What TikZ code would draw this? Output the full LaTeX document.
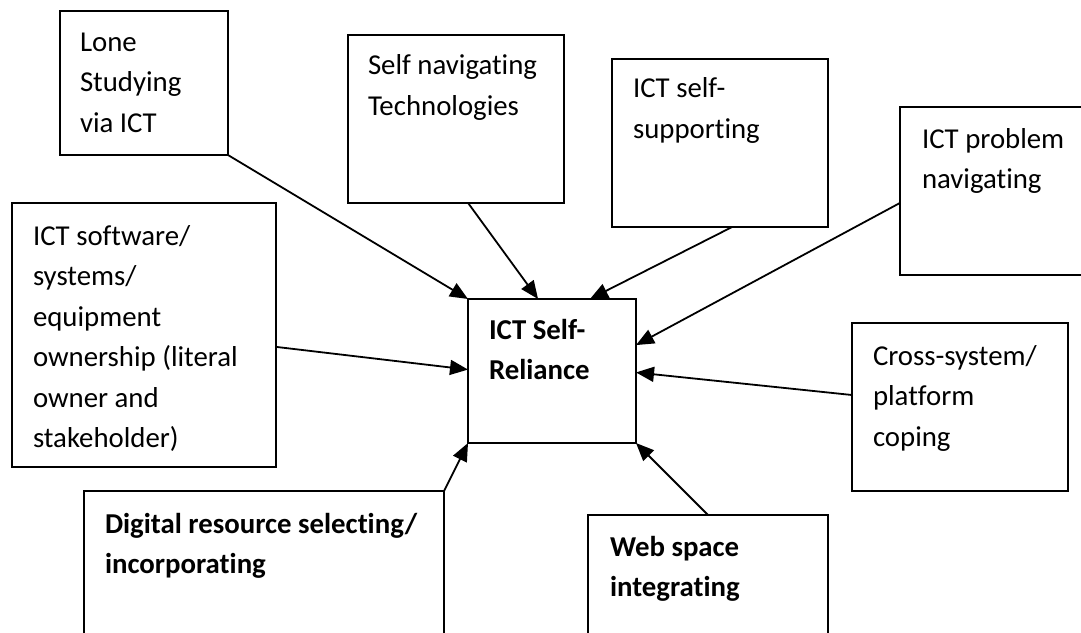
\documentclass[tikz,border=0pt]{standalone}
\usepackage{fontspec}
\setmainfont[Ligatures={NoCommon,NoDiscretionary,NoContextual}]{Carlito}
\usetikzlibrary{arrows.meta,calc}
\begin{document}
\begin{tikzpicture}[x=1pt,y=-1pt,
  box/.style={draw, line width=1.6pt, rectangle, inner sep=0pt, outer sep=0pt},
  txt/.style={anchor=north west, inner sep=0pt, outer sep=0pt, align=left,
    font=\fontsize{28.8pt}{40.5pt}\selectfont},
  btxt/.style={txt, font=\fontsize{28.8pt}{40.5pt}\selectfont\bfseries},
  conn/.style={line width=1.8pt, -{Triangle[length=18pt,width=15pt]}}]
\clip (0,0) rectangle (1081,632);
\fill[white] (0,0) rectangle (1081,632);
% boxes
\node[box, minimum width=168pt, minimum height=144pt] (lone) at (144,83) {};
\node[box, minimum width=216pt, minimum height=168pt] (selfnav) at (456,119) {};
\node[box, minimum width=216pt, minimum height=168pt] (selfsup) at (720,143) {};
\node[box, minimum width=216pt, minimum height=168pt] (problem) at (1008,191) {};
\node[box, minimum width=264pt, minimum height=264pt] (soft) at (144,335) {};
\node[box, minimum width=168pt, minimum height=144pt] (ctr) at (552,371) {};
\node[box, minimum width=216pt, minimum height=168pt] (cross) at (960,407) {};
\node[box, minimum width=360pt, minimum height=168pt] (digital) at (264,575) {};
\node[box, minimum width=240pt, minimum height=168pt] (web) at (708,599) {};
% texts
\node[txt] (lonet) at (80,33) {Lone\\Studying\\via ICT};
\node[txt] (selfnavt) at (368,55) {Self navigating\\Technologies};
\node[txt] (selfsupt) at (633,78) {ICT self-\\supporting};
\node[txt] (problemt) at (922,128) {ICT problem\\navigating};
\node[txt] (softt) at (33,225) {ICT software/\\systems/\\equipment\\ownership (literal\\owner and\\stakeholder)};
\node[btxt] (ctrt) at (489,319) {ICT Self-\\Reliance};
\node[txt] (crosst) at (873,345) {Cross-system/\\platform\\coping};
\node[btxt] (digitalt) at (105,513) {Digital resource selecting/\\incorporating};
\node[btxt] (webt) at (610,536) {Web space\\integrating};
% connectors
\draw[conn] (lone.south east) -- (ctr.north west);
\draw[conn] ($(selfnav.south west)!0.556!(selfnav.south east)$) -- ($(ctr.north west)!0.417!(ctr.north east)$);
\draw[conn] ($(selfsup.south west)!0.556!(selfsup.south east)$) -- ($(ctr.north west)!0.726!(ctr.north east)$);
\draw[conn] ($(problem.north west)!0.571!(problem.south west)$) -- ($(ctr.north east)!0.32!(ctr.south east)$);
\draw[conn] ($(soft.north east)!0.545!(soft.south east)$) -- ($(ctr.north west)!0.49!(ctr.south west)$);
\draw[conn] ($(cross.north west)!0.4286!(cross.south west)$) -- ($(ctr.north east)!0.51!(ctr.south east)$);
\draw[conn] (digital.north east) -- (ctr.south west);
\draw[conn] (web.north) -- (ctr.south east);
\end{tikzpicture}
\end{document}
